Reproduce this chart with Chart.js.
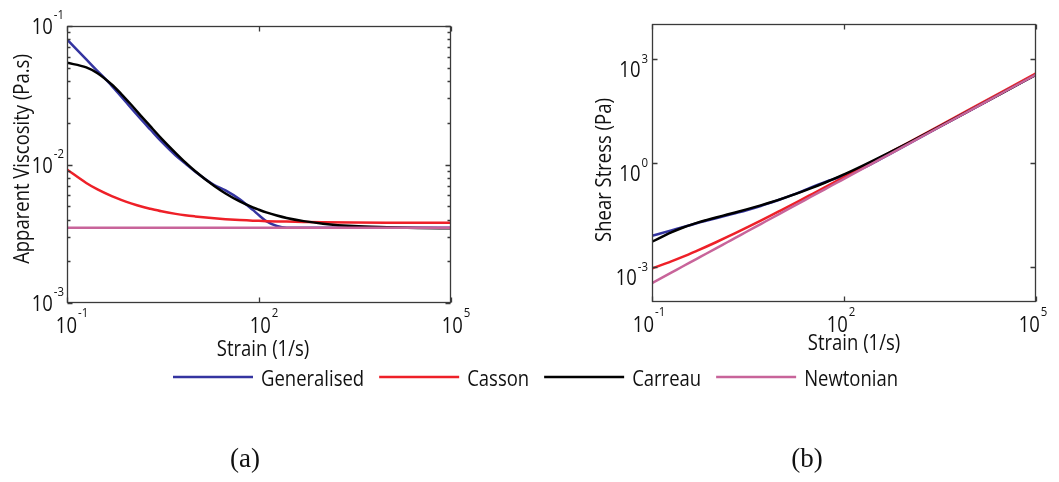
<!DOCTYPE html>
<html>
<head>
<meta charset="utf-8">
<script src="https://cdn.jsdelivr.net/npm/chart.js@4"></script>
<style>
  html, body { margin: 0; padding: 0; background: #fff; }
  #wrap { position: relative; width: 1059px; height: 482px; }
  canvas { position: absolute; left: 0; top: 0; }
</style>
</head>
<body>
<div id="wrap">
  <canvas id="viscChart" width="1059" height="482"></canvas>
  <canvas id="stressChart" width="1059" height="482"></canvas>
</div>
<script>
const strain = [0.1, 0.2, 0.3, 0.5, 0.7, 1, 1.5, 2, 3, 5, 7, 10, 20, 30, 50, 80, 100, 130, 190, 270, 500, 1000, 3000, 1e4, 3e4, 1e5];

const seriesNames = ['Generalised', 'Casson', 'Carreau', 'Newtonian'];
const seriesColors = ['#3434a0', '#ee2028', '#000000', '#c8649a'];

// (a) apparent viscosity (Pa.s)
const viscGeneralised = [0.080, 0.0574, 0.0473, 0.037, 0.031, 0.0256, 0.0207, 0.0179, 0.0146, 0.0116, 0.0102, 0.0089, 0.0071, 0.0065, 0.0056, 0.0047, 0.0043, 0.0039, 0.0036, 0.0035, 0.0035, 0.0035, 0.0035, 0.0035, 0.0035, 0.0035];
const viscCasson = [0.0092, 0.00736, 0.00661, 0.00591, 0.00555, 0.00524, 0.00495, 0.00479, 0.00459, 0.0044, 0.0043, 0.00422, 0.00409, 0.00403, 0.00397, 0.00393, 0.00392, 0.0039, 0.00388, 0.00387, 0.00385, 0.00383, 0.00381, 0.0038, 0.0038, 0.0038];
const viscCarreau = [0.0543, 0.0502, 0.0456, 0.0378, 0.0324, 0.0271, 0.0219, 0.0189, 0.0154, 0.0121, 0.0104, 0.00898, 0.00699, 0.00618, 0.00541, 0.0049, 0.00471, 0.00451, 0.00428, 0.00411, 0.0039, 0.00374, 0.00359, 0.00352, 0.00348, 0.00346];
const viscNewtonian = [0.0035, 0.0035, 0.0035, 0.0035, 0.0035, 0.0035, 0.0035, 0.0035, 0.0035, 0.0035, 0.0035, 0.0035, 0.0035, 0.0035, 0.0035, 0.0035, 0.0035, 0.0035, 0.0035, 0.0035, 0.0035, 0.0035, 0.0035, 0.0035, 0.0035, 0.0035];

// (b) shear stress (Pa)
const stressGeneralised = [0.0080, 0.01148, 0.01419, 0.0185, 0.0217, 0.0256, 0.03105, 0.0358, 0.0438, 0.058, 0.0714, 0.089, 0.142, 0.195, 0.28, 0.376, 0.43, 0.507, 0.684, 0.945, 1.75, 3.5, 10.5, 35, 105, 350];
const stressCasson = [0.00092, 0.00147, 0.00198, 0.00296, 0.00389, 0.00524, 0.00743, 0.00958, 0.01377, 0.022, 0.0301, 0.0422, 0.0818, 0.121, 0.1985, 0.3144, 0.392, 0.507, 0.737, 1.045, 1.925, 3.83, 11.43, 38, 114, 380];
const stressCarreau = [0.00543, 0.01004, 0.01368, 0.0189, 0.02268, 0.0271, 0.03285, 0.0378, 0.0462, 0.0605, 0.0728, 0.0898, 0.1398, 0.1854, 0.2705, 0.392, 0.471, 0.586, 0.813, 1.11, 1.95, 3.74, 10.77, 35.2, 104.4, 346];
const stressNewtonian = [0.00035, 0.0007, 0.00105, 0.00175, 0.00245, 0.0035, 0.00525, 0.007, 0.0105, 0.0175, 0.0245, 0.035, 0.07, 0.105, 0.175, 0.28, 0.35, 0.455, 0.665, 0.945, 1.75, 3.5, 10.5, 35, 105, 350];

// tick values
const xTicks = [0.1, 100, 1e5];
const viscTicks = [0.001, 0.01, 0.1];
const stressTicks = [0.001, 1, 1000];

const FONT = '"Open Sans", sans-serif';
const SQUEEZE = 0.88; // narrow the sans text a bit, original font is a condensed one
const INK = '#111';

function drawText(ctx, str, x, y, size, align, rot, family, squeeze) {
    ctx.save();
    ctx.translate(x, y);
    if (rot) ctx.rotate(rot);
    ctx.scale(squeeze || SQUEEZE, 1);
    ctx.font = size + 'px ' + (family || FONT);
    ctx.textAlign = align;
    ctx.textBaseline = 'alphabetic';
    ctx.fillStyle = INK;
    ctx.fillText(str, 0, 0);
    ctx.restore();
}

function textWidth(ctx, str, size) {
    ctx.save();
    ctx.font = size + 'px ' + FONT;
    const w = ctx.measureText(str).width * SQUEEZE;
    ctx.restore();
    return w;
}

// "10" with a raised exponent, left edge at x
function drawPow(ctx, v, x, yBase, yExp) {
    const e = String(Math.round(Math.log10(v)));
    const wb = textWidth(ctx, '10', 21);
    drawText(ctx, '10', x, yBase, 21, 'left');
    drawText(ctx, e, x + wb + 1, yExp, 13, 'left');
}

function powWidth(ctx, v) {
    const e = String(Math.round(Math.log10(v)));
    return textWidth(ctx, '10', 21) + 1 + textWidth(ctx, e, 13);
}

function framePlugin(cfg) {
    return {
        id: 'frame',
        afterDatasetsDraw(chart) {
            const ctx = chart.ctx;
            const a = chart.chartArea;
            const xs = chart.scales.x, ys = chart.scales.y;
            const L = Math.round(a.left) + 0.5, R = Math.round(a.right) - 0.5;
            const T = Math.round(a.top) + 0.5, B = Math.round(a.bottom) - 0.5;

            ctx.save();
            ctx.strokeStyle = '#3a3a3a';
            ctx.lineWidth = 1.3;
            ctx.strokeRect(L, T, R - L, B - T);

            // inward ticks on all four sides
            ctx.beginPath();
            xTicks.forEach(v => {
                const px = Math.round(xs.getPixelForValue(v)) + 0.5;
                ctx.moveTo(px, B); ctx.lineTo(px, B - 5);
                ctx.moveTo(px, T); ctx.lineTo(px, T + 5);
            });
            cfg.yTicks.forEach(v => {
                const py = Math.round(ys.getPixelForValue(v)) + 0.5;
                ctx.moveTo(L, py); ctx.lineTo(L + 5, py);
                ctx.moveTo(R, py); ctx.lineTo(R - 5, py);
            });
            if (cfg.minor) {
                for (let d = 0; d < cfg.yTicks.length - 1; d++) {
                    for (let m = 2; m <= 9; m++) {
                        const py = Math.round(ys.getPixelForValue(cfg.yTicks[d] * m)) + 0.5;
                        ctx.moveTo(L, py); ctx.lineTo(L + 3, py);
                        ctx.moveTo(R, py); ctx.lineTo(R - 3, py);
                    }
                }
            }
            ctx.stroke();
            ctx.restore();

            // tick labels
            xTicks.forEach(v => {
                const px = xs.getPixelForValue(v);
                const w = powWidth(ctx, v);
                drawPow(ctx, v, px + cfg.xLabelDx - w / 2, a.bottom + 30, a.bottom + 14);
            });
            cfg.yTicks.forEach(v => {
                const py = ys.getPixelForValue(v);
                const w = powWidth(ctx, v);
                drawPow(ctx, v, cfg.yLabelRight - w, py + cfg.yBaseDy, py + cfg.yExpDy);
            });

            // axis titles
            drawText(ctx, cfg.xTitle, cfg.xTitlePos[0], cfg.xTitlePos[1], 21, 'center');
            drawText(ctx, cfg.yTitle, cfg.yTitlePos[0], cfg.yTitlePos[1], 21, 'center', -Math.PI / 2);

            // panel caption
            drawText(ctx, cfg.caption, cfg.captionPos[0], cfg.captionPos[1], 27, 'center', 0, '"Liberation Serif", serif', 1);

            if (cfg.legend) drawLegend(chart);
        }
    };
}

function drawLegend(chart) {
    const ctx = chart.ctx;
    let x = 173;
    const y = 377;
    chart.data.datasets.forEach(d => {
        ctx.save();
        ctx.strokeStyle = d.borderColor;
        ctx.lineWidth = 2.5;
        ctx.beginPath();
        ctx.moveTo(x, y);
        ctx.lineTo(x + 80, y);
        ctx.stroke();
        ctx.restore();
        drawText(ctx, d.label, x + 88, y + 9, 21, 'left');
        x += 88 + textWidth(ctx, d.label, 21) + 15;
    });
}

function makeDatasets(values) {
    return seriesNames.map((name, i) => ({
        label: name,
        data: strain.map((s, k) => ({ x: s, y: values[i][k] })),
        borderColor: seriesColors[i],
        borderWidth: 2.5,
        pointRadius: 0,
        fill: false,
        cubicInterpolationMode: 'monotone',
        order: seriesNames.length - i
    }));
}

function makeChart(id, values, yMin, yMax, cfg) {
    return new Chart(document.getElementById(id), {
        type: 'line',
        data: { datasets: makeDatasets(values) },
        options: {
            responsive: false,
            animation: false,
            devicePixelRatio: 1,
            layout: { padding: cfg.padding },
            plugins: { legend: { display: false }, tooltip: { enabled: false } },
            scales: {
                x: { type: 'logarithmic', min: 0.1, max: 1e5, display: false },
                y: { type: 'logarithmic', min: yMin, max: yMax, display: false }
            }
        },
        plugins: [framePlugin(cfg)]
    });
}

// (a) Apparent viscosity
makeChart('viscChart', [viscGeneralised, viscCasson, viscCarreau, viscNewtonian], 0.001, 0.1, {
    padding: { left: 67, top: 26, right: 608, bottom: 179 },
    yTicks: viscTicks,
    minor: true,
    xLabelDx: 5,
    yLabelRight: 64,
    yBaseDy: 8,
    yExpDy: -7,
    xTitle: 'Strain (1/s)',
    xTitlePos: [263, 356],
    yTitle: 'Apparent Viscosity (Pa.s)',
    yTitlePos: [29, 159],
    caption: '(a)',
    captionPos: [245, 467],
    legend: true
});

// (b) Shear stress
makeChart('stressChart', [stressGeneralised, stressCasson, stressCarreau, stressNewtonian], 1e-4, 1e4, {
    padding: { left: 652, top: 24, right: 23, bottom: 180 },
    yTicks: stressTicks,
    minor: false,
    xLabelDx: -3,
    yLabelRight: 648,
    yBaseDy: 18,
    yExpDy: 4,
    xTitle: 'Strain (1/s)',
    xTitlePos: [854, 350],
    yTitle: 'Shear Stress (Pa)',
    yTitlePos: [611, 170],
    caption: '(b)',
    captionPos: [807, 467],
    legend: false
});
</script>
</body>
</html>
